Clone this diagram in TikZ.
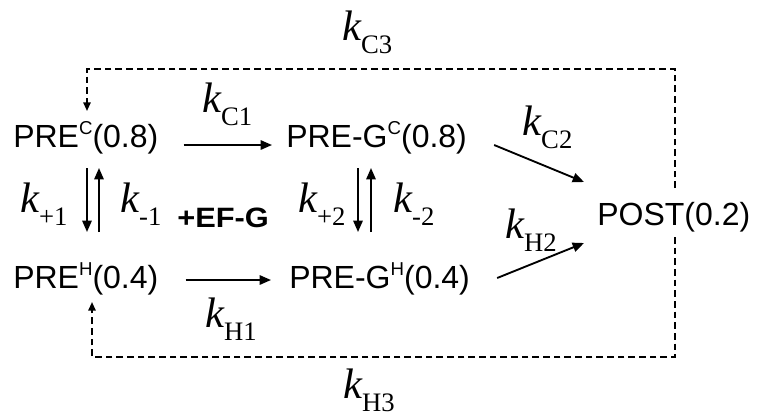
\documentclass[tikz,border=0pt]{standalone}
\usepackage{fontspec}
\setmainfont{Liberation Sans}
\newfontfamily\timesfont{Liberation Serif}
\usetikzlibrary{arrows.meta, positioning, calc}

\newcommand{\species}[2]{#1\raisebox{9.4pt}{\fontsize{14}{16}\selectfont #2}}
\newcommand{\rateconst}[1]{{\itshape k}\raisebox{-10pt}{\fontsize{20}{22}\selectfont #1}}

\begin{document}
\begin{tikzpicture}[x=0.75pt, y=-0.75pt]
    \tikzset{spc/.style={anchor=base west, inner sep=0pt, font=\fontsize{24}{28}\selectfont}}
    \tikzset{rk/.style={anchor=base west, inner sep=0pt, font=\timesfont\fontsize{32}{36}\selectfont}}
    \tikzset{rxn/.style={-{Triangle[length=8.5pt, width=7pt]}, line width=1.4pt}}
    \tikzset{back/.style={-{Triangle[length=6.5pt, width=5.5pt]}, line width=1.3pt, dash pattern=on 5pt off 3pt}}
    \useasboundingbox (0, 0) rectangle (759, 419);
    \node[spc] (PREC)  at (13, 147)  {\species{PRE}{C}(0.8)};
    \node[spc] (PREGC) at (286, 147) {\species{PRE-G}{C}(0.8)};
    \node[spc] (PREH)  at (13, 288)  {\species{PRE}{H}(0.4)};
    \node[spc] (PREGH) at (289, 288) {\species{PRE-G}{H}(0.4)};
    \node[spc] (POST)  at (597, 225) {POST(0.2)};
    \node[anchor=base west, inner sep=0pt, font=\bfseries\fontsize{21}{24}\selectfont] (EFG) at (177, 227) {\scalebox{1.1}[1]{+EF-G}};
    \node[rk] (kC3) at (342, 40)  {\rateconst{C3}};
    \node[rk] (kC1) at (202, 112) {\rateconst{C1}};
    \node[rk] (kC2) at (522, 135) {\rateconst{C2}};
    \node[rk] (kH2) at (505, 238) {\rateconst{H2}};
    \node[rk] (kp1) at (20, 212)  {\rateconst{+1}};
    \node[rk] (km1) at (120, 212) {\rateconst{-1}};
    \node[rk] (kp2) at (298, 212) {\rateconst{+2}};
    \node[rk] (km2) at (393, 212) {\rateconst{-2}};
    \node[rk] (kH1) at (205, 327) {\rateconst{H1}};
    \node[rk] (kH3) at (343, 398) {\rateconst{H3}};
    \draw[rxn] ($(PREC.base east)+(25,-2)$) -- ($(PREGC.base west)+(-14,-2)$);
    \draw[rxn] ($(PREH.base east)+(27,-8)$) -- ($(PREGH.base west)+(-18,-8)$);
    \draw[rxn] ($(PREC.base west)+(74,21)$) -- ($(PREH.base west)+(74,-56)$);
    \draw[rxn] ($(PREH.base west)+(86,-56)$) -- ($(PREC.base west)+(86,21)$);
    \draw[rxn] ($(PREGC.base west)+(72,21)$) -- ($(PREGH.base west)+(69,-56)$);
    \draw[rxn] ($(PREGH.base west)+(82,-56)$) -- ($(PREGC.base west)+(85,21)$);
    \draw[rxn] ($(PREGC.base east)+(27,-2)$) -- ($(POST.base west)+(-13,-43)$);
    \draw[rxn] ($(PREGH.base east)+(27,-10)$) -- ($(POST.base west)+(-13,18)$);
    \draw[back] ($(POST.base west)+(78,-37)$) |- ($(PREC.base west)+(74,-78)$) -- ($(PREC.base west)+(74,-36)$);
    \draw[back] ($(POST.base west)+(78,12)$) |- ($(PREH.base west)+(79,69)$) -- ($(PREH.base west)+(79,14)$);
\end{tikzpicture}
\end{document}
